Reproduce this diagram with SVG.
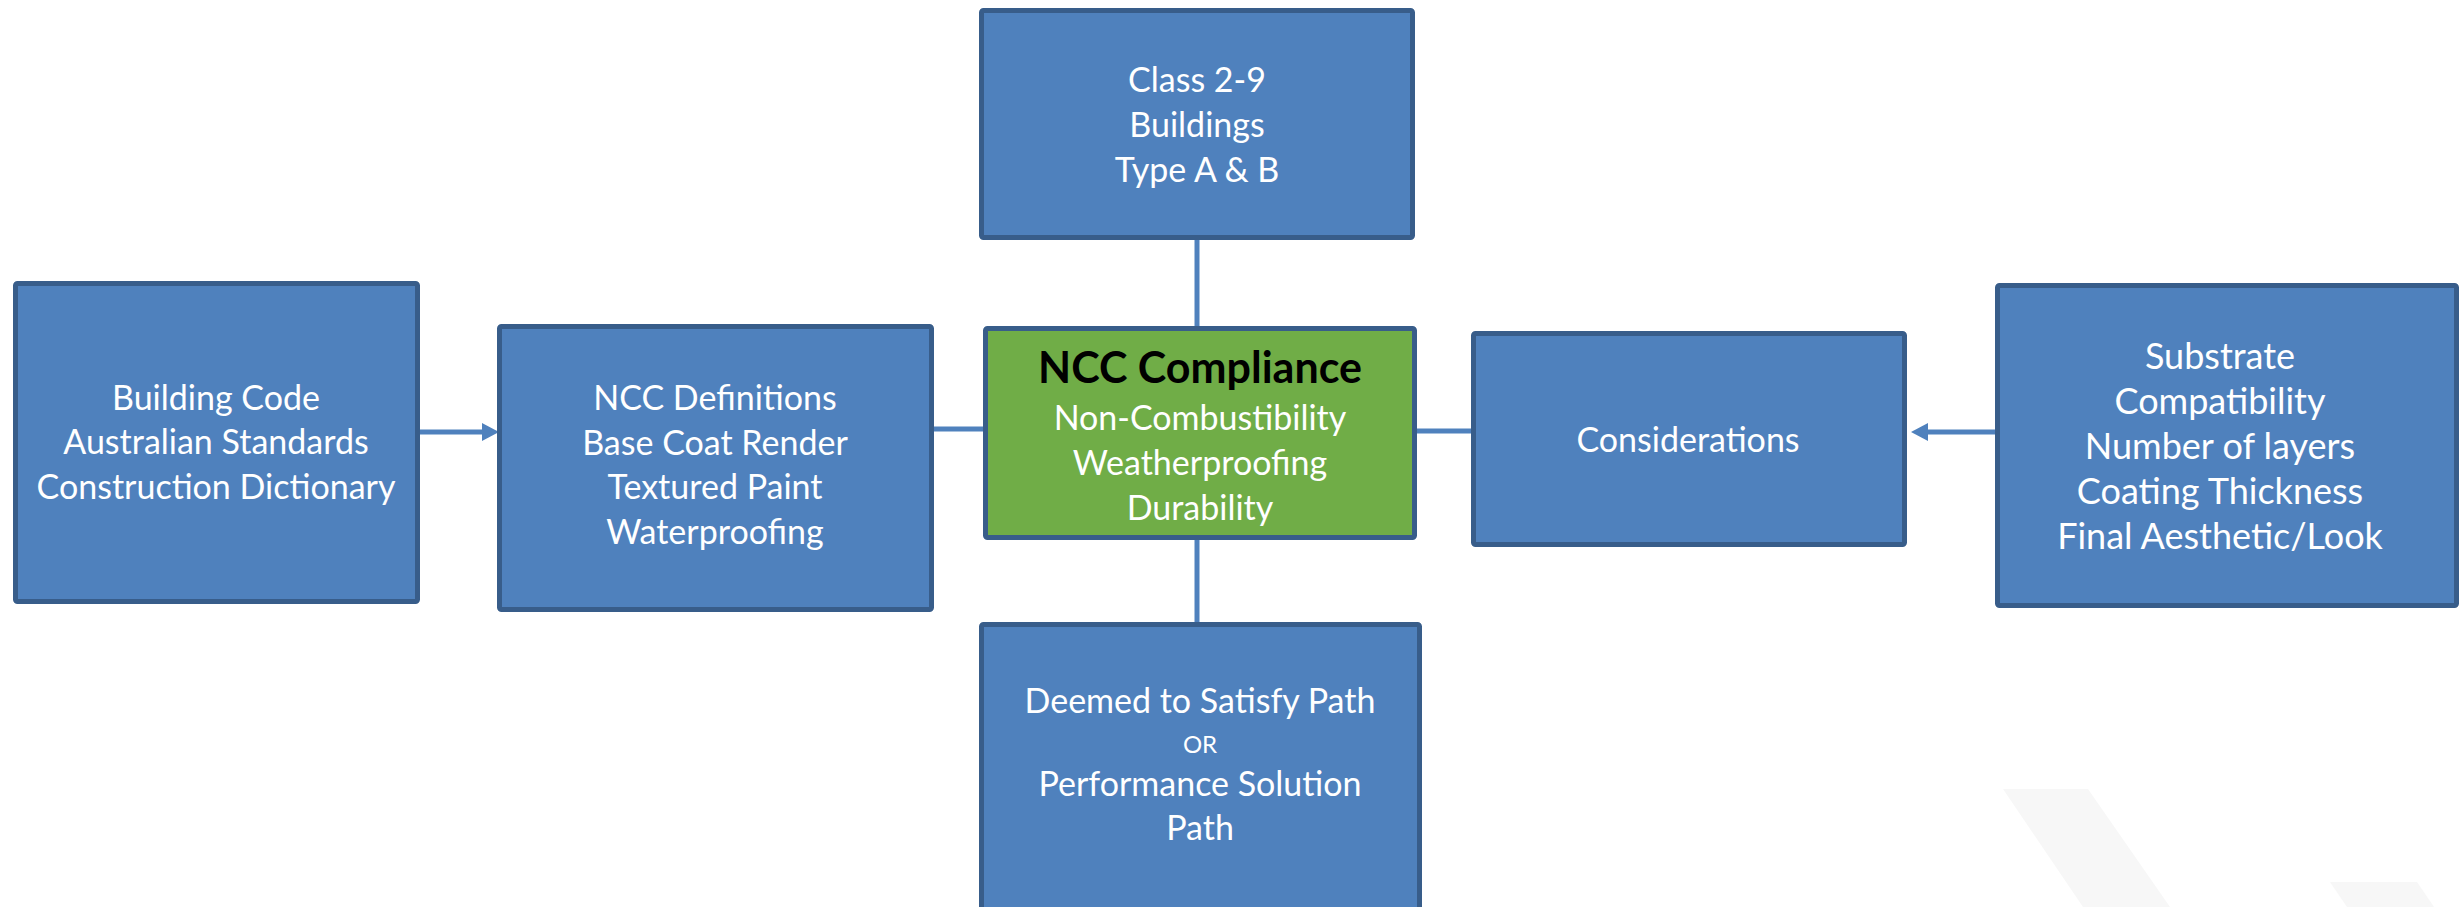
<svg xmlns="http://www.w3.org/2000/svg" width="2463" height="907" viewBox="0 0 2463 907">
  <defs>
    <style>
      .box { fill: #4F81BD; stroke: #385D8A; stroke-width: 5; }
      .green { fill: #70AD47; stroke: #385D8A; stroke-width: 5; }
      .t { font-family: Lato, "Liberation Sans", sans-serif; font-size: 34px; fill: #FFFFFF; text-anchor: middle; }
      .tl { font-family: Lato, "Liberation Sans", sans-serif; font-size: 36px; fill: #FFFFFF; text-anchor: middle; }
      .title { font-family: Lato, "Liberation Sans", sans-serif; font-size: 43px; font-weight: bold; fill: #000000; text-anchor: middle; }
      .small { font-family: Lato, "Liberation Sans", sans-serif; font-size: 24px; fill: #FFFFFF; text-anchor: middle; }
      .conn { stroke: #4F81BD; stroke-width: 5; fill: none; }
      .head { fill: #4F81BD; }
      .wm { fill: #F7F7F7; }
    </style>
  </defs>
  <rect width="2463" height="907" fill="#FFFFFF"/>
  <g id="watermark">
    <polygon class="wm" points="2003,789 2088,789 2170,907 2083,907"/>
    <polygon class="wm" points="2330,882 2417,882 2434,907 2347,907"/>
  </g>
  <g id="connectors">
    <line class="conn" x1="420" y1="432" x2="486" y2="432"/>
    <polygon class="head" points="499,432 482,423 482,441"/>
    <line class="conn" x1="1995" y1="432" x2="1924" y2="432"/>
    <polygon class="head" points="1911,432 1928,423 1928,441"/>
    <line class="conn" x1="934" y1="429" x2="983" y2="429"/>
    <line class="conn" x1="1417" y1="431" x2="1471" y2="431"/>
    <line class="conn" x1="1197" y1="240" x2="1197" y2="326"/>
    <line class="conn" x1="1197" y1="540" x2="1197" y2="622"/>
  </g>
  <g id="class">
    <rect class="box" x="981.5" y="10.5" width="431" height="227" rx="2"/>
    <text class="t" x="1197" y="92">Class 2-9</text>
    <text class="t" x="1197" y="137">Buildings</text>
    <text class="t" x="1197" y="182">Type A &amp; B</text>
  </g>
  <g id="building-code">
    <rect class="box" x="15.5" y="283.5" width="402" height="318" rx="2"/>
    <text class="t" x="216" y="410">Building Code</text>
    <text class="t" x="216" y="454">Australian Standards</text>
    <text class="t" x="216" y="499">Construction Dictionary</text>
  </g>
  <g id="ncc-definitions">
    <rect class="box" x="499.5" y="326.5" width="432" height="283" rx="2"/>
    <text class="t" x="715" y="410">NCC Definitions</text>
    <text class="t" x="715" y="455">Base Coat Render</text>
    <text class="t" x="715" y="499">Textured Paint</text>
    <text class="t" x="715" y="544">Waterproofing</text>
  </g>
  <g id="ncc-compliance">
    <rect class="green" x="985.5" y="328.5" width="429" height="209" rx="2"/>
    <text class="title" x="1200" y="383">NCC Compliance</text>
    <text class="t" x="1200" y="430">Non-Combustibility</text>
    <text class="t" x="1200" y="475">Weatherproofing</text>
    <text class="t" x="1200" y="520">Durability</text>
  </g>
  <g id="considerations">
    <rect class="box" x="1473.5" y="333.5" width="431" height="211" rx="2"/>
    <text class="t" x="1688" y="452">Considerations</text>
  </g>
  <g id="substrate">
    <rect class="box" x="1997.5" y="285.5" width="459" height="320" rx="2"/>
    <text class="tl" x="2220" y="369">Substrate</text>
    <text class="tl" x="2220" y="414">Compatibility</text>
    <text class="tl" x="2220" y="459">Number of layers</text>
    <text class="tl" x="2220" y="504">Coating Thickness</text>
    <text class="tl" x="2220" y="549">Final Aesthetic/Look</text>
  </g>
  <g id="paths">
    <rect class="box" x="981.5" y="624.5" width="438" height="300" rx="2"/>
    <text class="t" x="1200" y="713">Deemed to Satisfy Path</text>
    <text class="small" x="1200" y="753">OR</text>
    <text class="t" x="1200" y="796">Performance Solution</text>
    <text class="t" x="1200" y="840">Path</text>
  </g>
</svg>
